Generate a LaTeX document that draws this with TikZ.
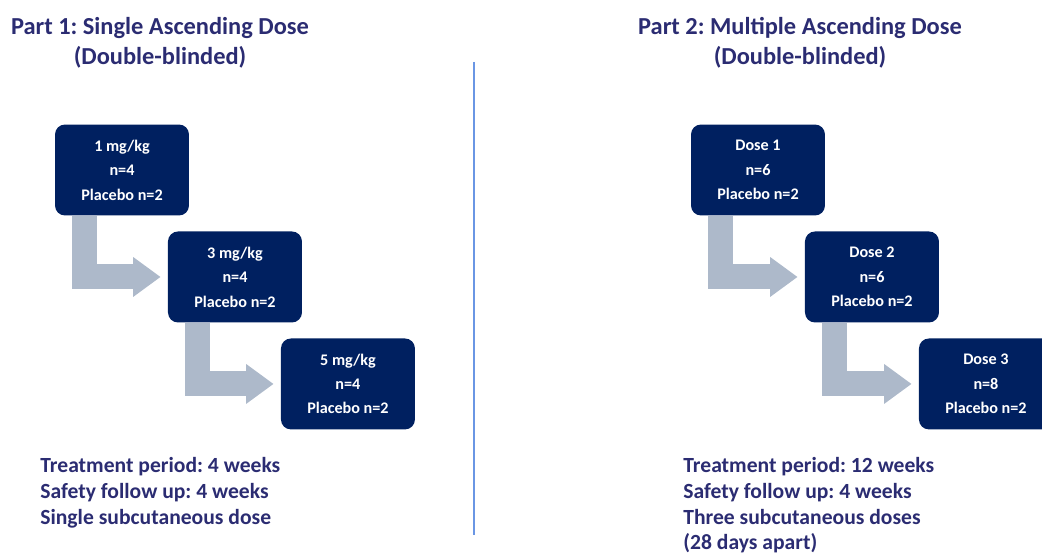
\documentclass[tikz,border=0pt]{standalone}
\usepackage{fontspec}
\setmainfont{Carlito}
\frenchspacing
\usetikzlibrary{positioning,arrows.meta}
\definecolor{navy}{HTML}{002060}
\definecolor{titleblue}{HTML}{2B2C72}
\definecolor{stepgrey}{HTML}{ADB9CA}
\definecolor{divider}{HTML}{6A96E4}

\tikzset{
  dosebox/.style={rectangle, rounded corners=0.2cm, fill=navy, text=white,
    minimum width=2.68cm, minimum height=1.82cm, inner sep=0pt, align=center,
    font=\fontsize{9.2}{13.9}\selectfont\bfseries},
  steparrow/.style={draw=stepgrey, line width=0.5cm,
    -{Triangle[width=0.76cm 0, length=0.55cm 0]}, shorten >=0.14cm},
  heading/.style={text=titleblue, align=center, anchor=north, inner sep=0pt,
    font=\fontsize{13.9}{17}\selectfont\bfseries},
  notes/.style={text=titleblue, align=left, anchor=north west, inner sep=0pt,
    font=\fontsize{12.3}{14.7}\selectfont\bfseries}
}

\begin{document}
\begin{tikzpicture}[x=0.02cm, y=-0.02cm, node distance=2cm, on grid]
   \clip (0,0) rectangle (1042,553);
   % headings
   \node[heading] (h1) at (160,17) {Part 1: Single Ascending Dose\\(Double-blinded)};
   \node[heading] (h2) at (800,17) {Part 2: Multiple Ascending Dose\\(Double-blinded)};
   \draw[divider, line width=0.7pt] (474,62) -- (474,535);
   % part 1
   \node[dosebox] (sad1) at (122,170) {1 mg/kg\\n=4\\Placebo n=2};
   \node[dosebox] (sad2) [below right=2.14cm and 2.26cm of sad1] {3 mg/kg\\n=4\\Placebo n=2};
   \node[dosebox] (sad3) [below right=2.14cm and 2.26cm of sad2] {5 mg/kg\\n=4\\Placebo n=2};
   \draw[steparrow] ([xshift=0.6cm]sad1.south west) |- (sad2.west);
   \draw[steparrow] ([xshift=0.6cm]sad2.south west) |- (sad3.west);
   % part 2
   \node[dosebox] (mad1) at (758,170) {Dose 1\\n=6\\Placebo n=2};
   \node[dosebox] (mad2) [below right=2.14cm and 2.28cm of mad1] {Dose 2\\n=6\\Placebo n=2};
   \node[dosebox] (mad3) [below right=2.14cm and 2.28cm of mad2] {Dose 3\\n=8\\Placebo n=2};
   \draw[steparrow] ([xshift=0.6cm]mad1.south west) |- (mad2.west);
   \draw[steparrow] ([xshift=0.6cm]mad2.south west) |- (mad3.west);
   % notes
   \node[notes] (n1) at (40,457) {Treatment period: 4 weeks\\Safety follow up: 4 weeks\\Single subcutaneous dose};
   \node[notes] (n2) at (683,457) {Treatment period: 12 weeks\\Safety follow up: 4 weeks\\Three subcutaneous doses\\(28 days apart)};
\end{tikzpicture}
\end{document}
